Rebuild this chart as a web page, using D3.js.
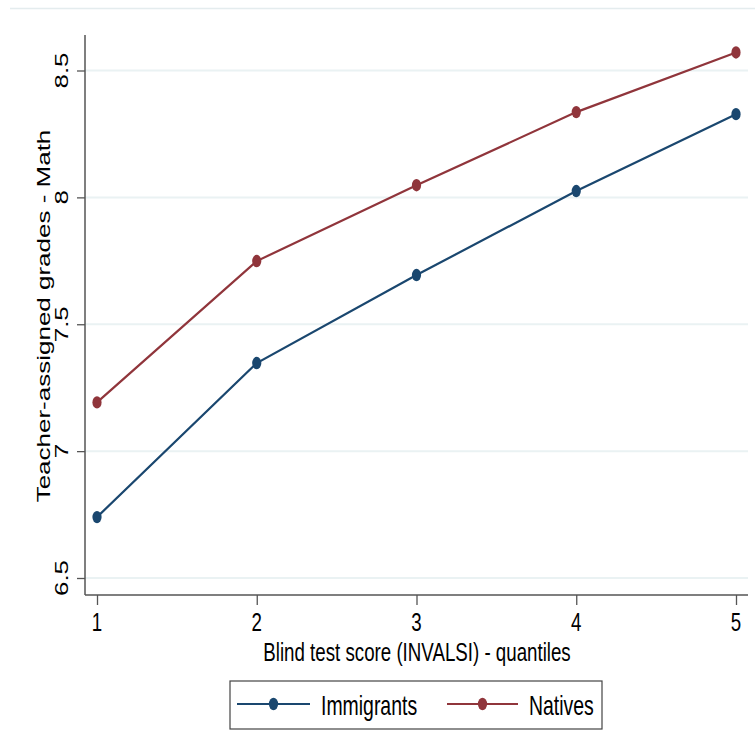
<!DOCTYPE html>
<html>
<head>
<meta charset="utf-8">
<script src="https://cdn.jsdelivr.net/npm/d3@7"></script>
<style>
  html, body { margin: 0; padding: 0; background: #fff; }
  svg { display: block; }
  text { font-family: "Liberation Sans", Arial, sans-serif; fill: #000; }
</style>
</head>
<body>
<script>
// ---- data ----
const quantiles = [1, 2, 3, 4, 5];
const immigrants = [6.74, 7.347, 7.694, 8.025, 8.328];
const natives = [7.192, 7.749, 8.048, 8.336, 8.571];
const yTicks = [6.5, 7, 7.5, 8, 8.5];
const yTickLabels = ["6.5", "7", "7.5", "8", "8.5"];
const seriesNames = ["Immigrants", "Natives"];
const seriesColors = ["#1a476f", "#90353b"];
const xTitle = "Blind test score (INVALSI) - quantiles";
const yTitle = "Teacher-assigned grades - Math";

const W = 755, H = 755;
const FS = 26, SX = 0.72;   // font size and horizontal compression of the original
const plot = { left: 85, right: 748, top: 35, bottom: 595 };

const svg = d3.select("body").append("svg").attr("width", W).attr("height", H);

const x = d3.scaleLinear().domain([1, 5]).range([97, 736]);
const y = d3.scaleLinear().domain([6.5, 8.5]).range([578, 70.5]);

// faint outer frame line at top
svg.append("line").attr("x1", 10).attr("x2", W).attr("y1", 8.5).attr("y2", 8.5)
  .attr("stroke", "#e4ecee").attr("stroke-width", 1.5);

// gridlines
svg.append("g").selectAll("line").data(yTicks).join("line")
  .attr("x1", plot.left).attr("x2", plot.right)
  .attr("y1", d => y(d)).attr("y2", d => y(d))
  .attr("stroke", "#eaf2f3").attr("stroke-width", 2);

// y axis
const yAxis = svg.append("g").attr("transform", `translate(${plot.left},0)`)
  .call(d3.axisLeft(y).tickValues(yTicks).tickSize(8).tickFormat(""));
yAxis.select(".domain").remove();
yAxis.selectAll(".tick line").attr("stroke", "#555").attr("stroke-width", 1.3);
yAxis.append("line").attr("x1", 0).attr("x2", 0).attr("y1", plot.top).attr("y2", plot.bottom)
  .attr("stroke", "#555").attr("stroke-width", 1.5);
svg.append("g").selectAll("text").data(yTicks).join("text")
  .attr("transform", (d) => `translate(68,${y(d)}) scale(${SX},1) rotate(-90)`)
  .attr("text-anchor", "middle").attr("font-size", FS)
  .text((d, i) => yTickLabels[i]);

// x axis
const xAxis = svg.append("g").attr("transform", `translate(0,${plot.bottom})`)
  .call(d3.axisBottom(x).tickValues(quantiles).tickSize(10).tickFormat(""));
xAxis.select(".domain").remove();
xAxis.selectAll(".tick line").attr("stroke", "#555").attr("stroke-width", 1.3);
xAxis.append("line").attr("x1", plot.left).attr("x2", plot.right).attr("y1", 0).attr("y2", 0)
  .attr("stroke", "#555").attr("stroke-width", 1.5);
svg.append("g").selectAll("text").data(quantiles).join("text")
  .attr("transform", d => `translate(${x(d)},631) scale(${SX},1)`)
  .attr("text-anchor", "middle").attr("font-size", FS)
  .text(d => d);

// axis titles
svg.append("text").attr("transform", `translate(417,661) scale(${SX},1)`)
  .attr("text-anchor", "middle").attr("font-size", FS).text(xTitle);
svg.append("text").attr("transform", `translate(50,316) scale(${SX},1) rotate(-90)`)
  .attr("text-anchor", "middle").attr("font-size", FS).text(yTitle);

// series
const allSeries = [immigrants, natives];
const line = d3.line().x((d, i) => x(quantiles[i])).y(d => y(d));
allSeries.forEach((vals, s) => {
  svg.append("path").datum(vals).attr("d", line)
    .attr("fill", "none").attr("stroke", seriesColors[s]).attr("stroke-width", 2.2);
  svg.append("g").selectAll("ellipse").data(vals).join("ellipse")
    .attr("cx", (d, i) => x(quantiles[i])).attr("cy", d => y(d))
    .attr("rx", 4.6).attr("ry", 6.2).attr("fill", seriesColors[s]);
});

// legend
const lg = svg.append("g");
lg.append("rect").attr("x", 230).attr("y", 681).attr("width", 372).attr("height", 48)
  .attr("fill", "#fff").attr("stroke", "#444").attr("stroke-width", 1.2);
const legendItems = [
  { x1: 237, x2: 310, tx: 321 },
  { x1: 447, x2: 518, tx: 529 }
];
legendItems.forEach((it, s) => {
  const ly = 704;
  lg.append("line").attr("x1", it.x1).attr("x2", it.x2).attr("y1", ly).attr("y2", ly)
    .attr("stroke", seriesColors[s]).attr("stroke-width", 2.2);
  lg.append("ellipse").attr("cx", (it.x1 + it.x2) / 2).attr("cy", ly)
    .attr("rx", 4.6).attr("ry", 6.2).attr("fill", seriesColors[s]);
  lg.append("text").attr("transform", `translate(${it.tx},715) scale(${SX},1)`)
    .attr("font-size", 27).text(seriesNames[s]);
});
</script>
</body>
</html>
